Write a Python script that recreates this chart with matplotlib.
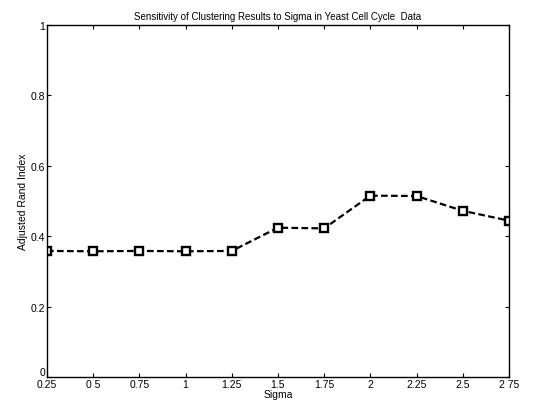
import matplotlib
matplotlib.use("Agg")
import matplotlib.pyplot as plt

# Data
sigma = [0.25, 0.5, 0.75, 1.0, 1.25, 1.5, 1.75, 2.0, 2.25, 2.5, 2.75]
ari = [0.358, 0.357, 0.358, 0.357, 0.358, 0.424, 0.422, 0.515, 0.514, 0.472, 0.444]
xtick_labels = ["0.25", "0 5", "0.75", "1", "1.25", "1.5", "1.75", "2", "2.25", "2.5", "2 75"]
yticks = [0, 0.2, 0.4, 0.6, 0.8, 1]
ytick_labels = ["0", "0.2", "0.4", "0.6", "0.8", "1"]

plt.rcParams['font.family'] = ['Liberation Sans', 'DejaVu Sans']

fig = plt.figure(figsize=(5.34, 4.1), dpi=100)
ax = fig.add_axes([0.088, 0.078, 0.865, 0.859])

ax.plot(sigma, ari, linestyle='--', color='black', linewidth=1.6,
        marker='s', markersize=6, markerfacecolor='white',
        markeredgecolor='black', markeredgewidth=1.7, dashes=(3, 1.5))

ax.set_xlim(0.25, 2.75)
ax.set_ylim(0, 1)
ax.set_xticks(sigma)
ax.set_xticklabels(xtick_labels)
ax.set_yticks(yticks)
ax.set_yticklabels(ytick_labels)
ax.tick_params(direction='in', length=3, labelsize=7.5, pad=1.5, width=0.8)
ax.tick_params(top=True, right=True)
# the "0" label sits a little above the corner, as in the reference
ax.get_yticklabels()[0].set_va('bottom')
for s in ax.spines.values():
    s.set_linewidth(1.0)

ax.set_title("Sensitivity of Clustering Results to Sigma in Yeast Cell Cycle  Data",
             fontsize=7, pad=4)
ax.set_xlabel("Sigma", fontsize=7.5, labelpad=0)
ax.set_ylabel("Adjusted Rand Index", fontsize=7.5, labelpad=2)

fig.savefig("out.png", dpi=100)
